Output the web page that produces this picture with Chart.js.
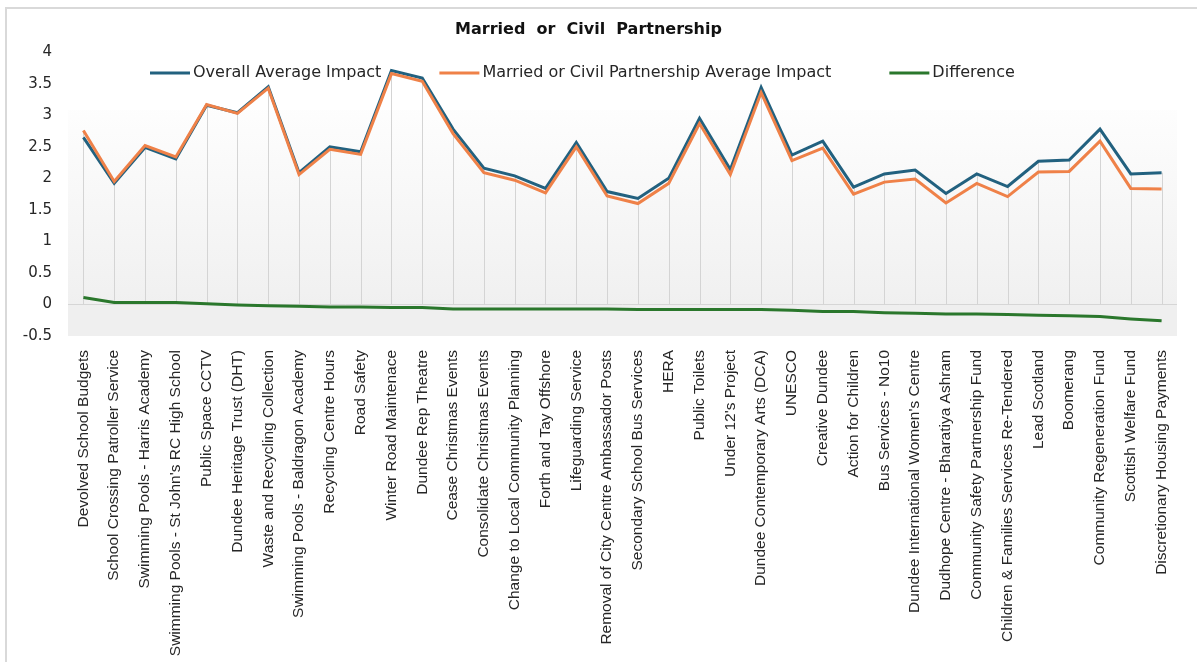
<!DOCTYPE html>
<html>
<head>
<meta charset="utf-8">
<script src="https://cdn.jsdelivr.net/npm/chart.js@4.4.0/dist/chart.umd.min.js"></script>
<style>
  html, body { margin: 0; padding: 0; background: #fff; }
  #wrap { position: relative; width: 1197px; height: 662px; }
</style>
</head>
<body>
<div id="wrap"><canvas id="impactChart" width="1197" height="662"></canvas></div>
<script>
const chartTitle = 'Married  or  Civil  Partnership'

const services = [
  'Devolved School Budgets', 'School Crossing Patroller Service', 'Swimming Pools - Harris Academy',
  "Swimming Pools - St John's RC High School", 'Public Space CCTV', 'Dundee Heritage Trust (DHT)',
  'Waste and Recycling Collection', 'Swimming Pools - Baldragon Academy', 'Recycling Centre Hours',
  'Road Safety', 'Winter Road Maintenace', 'Dundee Rep Theatre', 'Cease Christmas Events',
  'Consolidate Christmas Events', 'Change to Local Community Planning', 'Forth and Tay Offshore',
  'Lifeguarding Service', 'Removal of City Centre Ambassador Posts', 'Secondary School Bus Services',
  'HERA', 'Public Toilets', "Under 12's Project", 'Dundee Contemporary Arts (DCA)', 'UNESCO',
  'Creative Dundee', 'Action for Children', 'Bus Services - No10', "Dundee International Women's Centre",
  'Dudhope Centre - Bharatiya Ashram', 'Community Safety Partnership Fund',
  'Children & Families Services Re-Tendered', 'Lead Scotland', 'Boomerang',
  'Community Regeneration Fund', 'Scottish Welfare Fund', 'Discretionary Housing Payments'
]

const overallAvg = [2.65, 1.92, 2.49, 2.31, 3.16, 3.04, 3.45, 2.09, 2.50, 2.42, 3.71, 3.59,
  2.78, 2.16, 2.04, 1.84, 2.57, 1.79, 1.68, 2.00, 2.95, 2.14, 3.44, 2.37,
  2.59, 1.86, 2.07, 2.13, 1.76, 2.07, 1.87, 2.27, 2.29, 2.78, 2.07, 2.09]

const marriedAvg = [2.76, 1.95, 2.52, 2.34, 3.17, 3.03, 3.43, 2.06, 2.46, 2.38, 3.66, 3.54,
  2.71, 2.09, 1.97, 1.77, 2.50, 1.72, 1.60, 1.92, 2.87, 2.06, 3.36, 2.28,
  2.48, 1.75, 1.94, 1.99, 1.61, 1.92, 1.71, 2.10, 2.11, 2.59, 1.84, 1.83]

const difference = [0.11, 0.03, 0.03, 0.03, 0.01, -0.01, -0.02, -0.03, -0.04, -0.04, -0.05, -0.05,
  -0.07, -0.07, -0.07, -0.07, -0.07, -0.07, -0.08, -0.08, -0.08, -0.08, -0.08, -0.09,
  -0.11, -0.11, -0.13, -0.14, -0.15, -0.15, -0.16, -0.17, -0.18, -0.19, -0.23, -0.26]

const blue = '#22617f'
const orange = '#ef8148'
const green = '#2a772c'
const textcolor = '#262626'

// frame, plot background gradient and drop lines
const chartBackdrop = {
  id: 'chartBackdrop',
  beforeDraw(chart) {
    const {ctx, chartArea: {left, top, right, bottom}, scales: {y}} = chart
    ctx.save()
    ctx.strokeStyle = '#d9d9d9'
    ctx.lineWidth = 2
    ctx.beginPath()
    ctx.moveTo(6, chart.height)
    ctx.lineTo(6, 8)
    ctx.lineTo(chart.width, 8)
    ctx.stroke()
    const zero = y.getPixelForValue(0)
    const g = ctx.createLinearGradient(0, top, 0, zero)
    g.addColorStop(0, '#ffffff')
    g.addColorStop(0.2, '#fefefe')
    g.addColorStop(1, '#f0f0f0')
    ctx.fillStyle = g
    ctx.fillRect(left, top + 58, right - left, zero - top - 58)
    ctx.fillStyle = '#efefef'
    ctx.fillRect(left, zero, right - left, bottom - zero)
    ctx.restore()
  },
  beforeDatasetsDraw(chart) {
    const {ctx, scales: {y}} = chart
    const zero = y.getPixelForValue(0)
    const a = chart.getDatasetMeta(0).data
    const b = chart.getDatasetMeta(1).data
    ctx.save()
    ctx.strokeStyle = '#d4d4d4'
    ctx.lineWidth = 1
    for (let i = 0; i < a.length; i++) {
      const x = Math.round(a[i].x) + 0.5
      ctx.beginPath()
      ctx.moveTo(x, Math.min(a[i].y, b[i].y))
      ctx.lineTo(x, zero)
      ctx.stroke()
    }
    ctx.restore()
  }
}

// legend sits inside the plot like the excel one
const innerLegend = {
  id: 'innerLegend',
  afterDraw(chart) {
    const {ctx, chartArea: {left}, scales: {y}} = chart
    const ly = y.getPixelForValue(3.67)
    ctx.save()
    ctx.font = '16px "DejaVu Sans"'
    ctx.textBaseline = 'middle'
    let x = left + 82
    chart.data.datasets.forEach(ds => {
      ctx.strokeStyle = ds.borderColor
      ctx.lineWidth = 3
      ctx.beginPath()
      ctx.moveTo(x, ly)
      ctx.lineTo(x + 40, ly)
      ctx.stroke()
      ctx.fillStyle = textcolor
      ctx.fillText(ds.label, x + 43, ly)
      x += 43 + ctx.measureText(ds.label).width + 58
    })
    ctx.restore()
  }
}

const data = {
  labels: services,
  datasets: [
    {label: 'Overall Average Impact', data: overallAvg, borderColor: blue, backgroundColor: blue, order: 2},
    {label: 'Married or Civil Partnership Average Impact', data: marriedAvg, borderColor: orange, backgroundColor: orange, order: 1},
    {label: 'Difference', data: difference, borderColor: green, backgroundColor: green, order: 0}
  ]
}

const config = {
  type: 'line',
  data: data,
  options: {
    responsive: false,
    animation: false,
    layout: {padding: {left: 0, right: 20, top: 0, bottom: 0}},
    elements: {line: {borderWidth: 3, tension: 0}, point: {radius: 0}},
    scales: {
      x: {
        offset: true,
        grid: {display: false},
        border: {display: false},
        ticks: {
          autoSkip: false, maxRotation: 90, minRotation: 90, padding: 6,
          color: textcolor, font: {family: '"Liberation Sans", Arial', size: 15.5}
        },
        afterFit(scale) { scale.height = 326 }
      },
      y: {
        min: -0.5, max: 4,
        grid: {drawTicks: false, color: ctx => ctx.tick && ctx.tick.value === 0 ? '#d6d6d6' : 'transparent'},
        border: {display: false},
        ticks: {
          stepSize: 0.5, padding: 16, color: textcolor, font: {family: '"DejaVu Sans"', size: 15},
          callback: v => String(Math.round(v * 10) / 10)
        },
        afterFit(scale) { scale.width = 68 }
      }
    },
    plugins: {
      legend: {display: false},
      tooltip: {enabled: false},
      title: {
        display: true, text: chartTitle, color: '#111',
        font: {family: '"DejaVu Sans"', size: 16, weight: 'bold'},
        padding: {top: 20, bottom: 13}
      }
    }
  },
  plugins: [chartBackdrop, innerLegend]
}

const myChart = new Chart(document.getElementById('impactChart'), config)
</script>
</body>
</html>
